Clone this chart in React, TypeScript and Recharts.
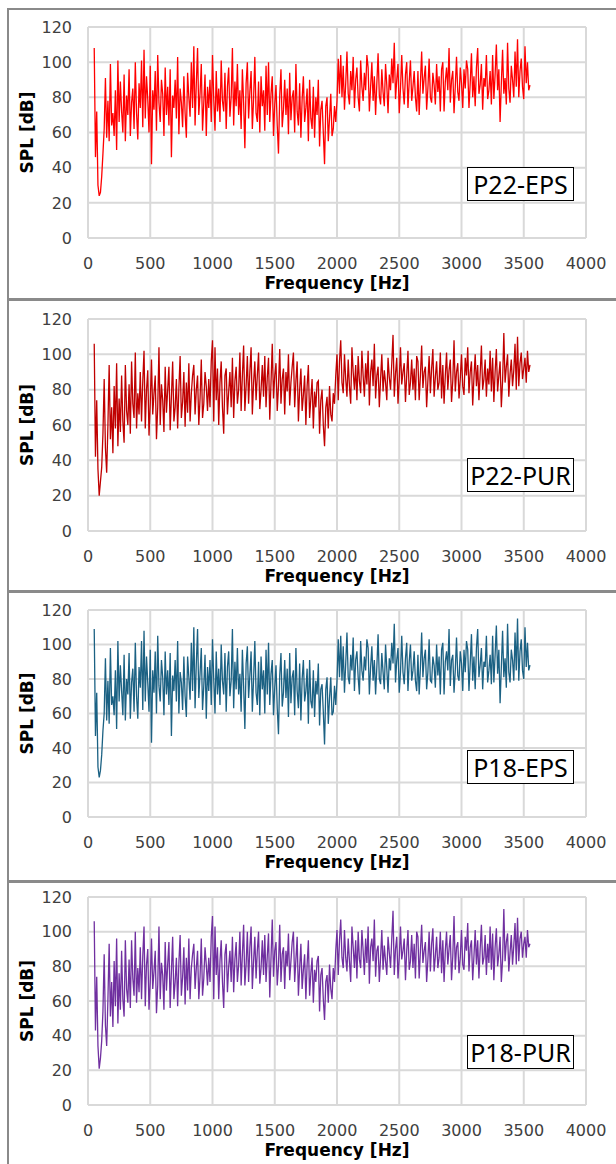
import { LineChart, Line, CartesianGrid, XAxis, YAxis } from "recharts";

// FFT bins: 50 Hz to 3550 Hz every 10 Hz
const startHz = 50;
const stepHz = 10;

const xTicks = [0, 500, 1000, 1500, 2000, 2500, 3000, 3500, 4000];
const yTicks = [0, 20, 40, 60, 80, 100, 120];

const p22Eps = [
  108, 46, 72, 30, 24, 26, 35, 48, 62, 91, 57, 78, 55, 99, 64, 71, 58, 84, 50, 101,
  66, 89, 72, 60, 93, 55, 81, 70, 96, 58, 77, 85, 62, 100, 71, 56, 88, 74, 101, 63,
  107, 68, 92, 79, 60, 98, 42, 84, 73, 95, 61, 104, 77, 66, 90, 82, 58, 97, 70, 86,
  64, 96, 46, 81, 74, 90, 68, 103, 59, 85, 77, 63, 92, 71, 57, 94, 80, 69, 100, 74,
  109, 64, 88, 108, 70, 82, 99, 61, 77, 93, 58, 86, 74, 90, 66, 104, 79, 61, 95, 72,
  85, 66, 101, 78, 72, 94, 62, 86, 97, 69, 80, 108, 64, 89, 75, 99, 70, 84, 62, 96,
  77, 51, 88, 100, 68, 83, 95, 62, 79, 103, 71, 66, 89, 60, 92, 75, 84, 61, 98, 70,
  100, 66, 82, 92, 58, 76, 87, 64, 48, 81, 96, 63, 73, 90, 70, 85, 59, 94, 67, 80,
  84, 60, 99, 72, 64, 88, 57, 79, 92, 66, 74, 85, 55, 90, 68, 62, 86, 57, 80, 70,
  90, 52, 73, 78, 60, 42, 75, 80, 55, 68, 82, 58, 62, 75, 66, 78, 102, 82, 104, 80,
  98, 73, 88, 106, 82, 76, 95, 84, 103, 74, 90, 97, 80, 72, 101, 86, 78, 94, 84, 104,
  97, 72, 86, 100, 78, 92, 70, 88, 105, 81, 76, 96, 83, 75, 99, 87, 71, 93, 84, 102,
  88, 111, 79, 90, 99, 71, 85, 104, 85, 76, 93, 100, 74, 89, 101, 78, 86, 95, 80, 72,
  95, 70, 88, 106, 82, 91, 98, 73, 85, 102, 80, 77, 94, 87, 76, 99, 83, 92, 72, 96,
  100, 72, 89, 97, 84, 108, 77, 90, 95, 71, 86, 103, 83, 78, 97, 88, 74, 96, 85, 101,
  96, 74, 88, 105, 80, 92, 75, 97, 108, 82, 87, 99, 73, 91, 86, 104, 79, 84, 95, 76,
  104, 79, 93, 110, 84, 96, 66, 88, 107, 82, 91, 76, 111, 85, 77, 98, 90, 80, 106, 86,
  113, 80, 95, 102, 86, 79, 109, 88, 100, 84, 87,
];

const p22Pur = [
  106, 42, 74, 35, 20, 28, 36, 55, 86, 47, 33, 60, 94, 52, 70, 44, 82, 58, 95, 48,
  75, 56, 88, 62, 50, 94, 68, 60, 83, 55, 96, 72, 64, 101, 58, 78, 66, 90, 62, 85,
  102, 58, 80, 91, 54, 72, 97, 66, 78, 88, 52, 70, 104, 60, 83, 74, 56, 93, 67, 80,
  93, 57, 76, 96, 62, 70, 86, 58, 81, 99, 64, 73, 90, 59, 84, 67, 95, 62, 78, 88,
  94, 66, 80, 88, 60, 75, 97, 64, 72, 90, 82, 68, 86, 70, 96, 108, 62, 104, 74, 92,
  60, 84, 96, 70, 55, 88, 92, 66, 79, 90, 70, 98, 64, 85, 93, 72, 80, 101, 68, 88,
  105, 68, 82, 99, 72, 90, 104, 66, 84, 96, 74, 88, 101, 69, 80, 94, 76, 99, 70, 87,
  98, 63, 84, 106, 75, 88, 95, 68, 82, 103, 72, 86, 92, 66, 90, 79, 100, 71, 84, 93,
  101, 70, 85, 96, 62, 80, 92, 68, 77, 88, 60, 82, 94, 64, 75, 86, 58, 79, 70, 84,
  85, 55, 74, 80, 60, 48, 70, 76, 58, 82, 66, 62, 78, 72, 88, 100, 74, 96, 108, 84,
  78, 100, 86, 76, 97, 82, 72, 104, 90, 80, 94, 74, 99, 85, 78, 102, 88, 76, 95, 83,
  102, 71, 90, 97, 82, 106, 75, 88, 93, 70, 86, 100, 79, 91, 84, 74, 98, 87, 80, 95,
  111, 76, 89, 98, 72, 86, 104, 83, 90, 95, 73, 88, 102, 77, 84, 97, 80, 92, 74, 99,
  96, 74, 88, 105, 81, 90, 93, 70, 85, 99, 78, 92, 103, 76, 87, 96, 80, 84, 101, 75,
  94, 72, 88, 101, 80, 91, 97, 73, 85, 108, 79, 90, 95, 75, 86, 100, 82, 77, 98, 88,
  104, 78, 90, 96, 71, 87, 100, 82, 94, 74, 89, 105, 80, 86, 97, 76, 92, 83, 102, 79,
  98, 73, 90, 103, 79, 88, 96, 70, 85, 112, 84, 93, 100, 76, 89, 97, 82, 91, 106, 80,
  110, 82, 95, 101, 86, 92, 98, 84, 102, 90, 94,
];

const p18Eps = [
  109, 47, 72, 29, 23, 27, 36, 50, 60, 92, 56, 79, 54, 98, 65, 70, 59, 85, 51, 102,
  67, 88, 73, 59, 94, 56, 80, 71, 95, 57, 78, 86, 61, 101, 70, 57, 87, 75, 102, 62,
  108, 67, 93, 78, 61, 97, 43, 85, 72, 96, 60, 105, 76, 67, 91, 81, 59, 96, 71, 85,
  65, 95, 47, 82, 73, 91, 67, 102, 60, 84, 78, 62, 93, 70, 58, 93, 81, 68, 101, 73,
  110, 63, 89, 109, 69, 83, 98, 62, 76, 94, 57, 87, 73, 91, 65, 103, 80, 60, 96, 71,
  86, 65, 100, 79, 71, 95, 61, 87, 96, 70, 79, 109, 63, 90, 74, 98, 71, 83, 61, 97,
  76, 51, 89, 99, 69, 82, 96, 61, 80, 102, 72, 65, 90, 59, 93, 74, 85, 60, 97, 71,
  101, 65, 83, 91, 59, 75, 88, 63, 48, 82, 95, 64, 72, 91, 69, 86, 58, 95, 66, 81,
  85, 59, 98, 73, 63, 89, 56, 80, 91, 67, 73, 86, 54, 91, 67, 63, 85, 58, 79, 71,
  89, 53, 74, 77, 61, 42, 74, 81, 54, 69, 81, 59, 61, 76, 65, 79, 103, 81, 105, 79,
  99, 72, 89, 107, 81, 77, 94, 85, 104, 73, 91, 96, 81, 71, 102, 85, 79, 93, 85, 103,
  98, 71, 87, 99, 79, 91, 71, 87, 106, 80, 77, 95, 84, 74, 100, 86, 72, 92, 85, 101,
  89, 112, 78, 91, 98, 72, 84, 105, 84, 77, 92, 101, 73, 90, 100, 79, 85, 96, 79, 73,
  94, 71, 87, 107, 81, 92, 97, 74, 84, 103, 79, 78, 93, 88, 75, 100, 82, 93, 71, 97,
  101, 71, 90, 96, 85, 109, 76, 91, 94, 72, 85, 104, 82, 79, 96, 89, 73, 97, 84, 102,
  97, 73, 89, 106, 79, 93, 74, 98, 109, 81, 88, 98, 74, 90, 87, 105, 78, 85, 94, 77,
  105, 78, 94, 111, 83, 97, 66, 87, 108, 81, 92, 75, 112, 84, 78, 97, 91, 79, 107, 85,
  115, 79, 96, 103, 85, 80, 110, 87, 101, 85, 88,
];

const p18Pur = [
  106, 43, 74, 34, 21, 27, 37, 54, 87, 46, 34, 61, 93, 51, 71, 45, 83, 57, 96, 47,
  76, 55, 89, 61, 51, 95, 67, 59, 84, 56, 95, 73, 63, 100, 59, 79, 65, 91, 61, 86,
  103, 57, 81, 90, 55, 71, 96, 67, 77, 89, 53, 69, 103, 61, 82, 75, 55, 94, 66, 81,
  94, 56, 77, 97, 61, 71, 85, 57, 82, 98, 63, 74, 91, 58, 85, 66, 96, 61, 79, 87,
  93, 67, 79, 89, 61, 74, 96, 63, 73, 91, 81, 69, 85, 71, 97, 109, 61, 103, 75, 91,
  61, 83, 95, 71, 56, 87, 93, 65, 80, 89, 71, 97, 65, 84, 94, 71, 81, 100, 69, 87,
  104, 69, 81, 100, 71, 91, 103, 67, 83, 97, 73, 89, 100, 70, 79, 95, 75, 98, 71, 86,
  99, 62, 85, 107, 74, 89, 94, 69, 81, 104, 71, 87, 91, 67, 89, 80, 99, 72, 83, 94,
  100, 71, 84, 97, 63, 79, 93, 67, 78, 87, 61, 81, 95, 63, 76, 85, 59, 78, 71, 83,
  86, 54, 75, 79, 61, 49, 71, 75, 59, 81, 67, 61, 79, 71, 89, 101, 75, 95, 107, 85,
  79, 101, 85, 77, 96, 83, 71, 103, 91, 79, 95, 73, 100, 84, 79, 101, 89, 75, 96, 82,
  103, 70, 91, 96, 83, 107, 74, 89, 92, 71, 85, 101, 78, 92, 83, 75, 97, 88, 79, 96,
  112, 75, 90, 97, 73, 85, 103, 84, 89, 96, 72, 89, 101, 78, 83, 98, 79, 93, 73, 100,
  97, 73, 89, 104, 82, 89, 94, 71, 84, 100, 77, 93, 102, 77, 86, 97, 79, 85, 100, 76,
  95, 71, 89, 100, 81, 90, 98, 72, 86, 109, 78, 91, 94, 76, 85, 101, 81, 78, 97, 89,
  105, 77, 91, 95, 72, 86, 101, 81, 95, 73, 90, 104, 81, 85, 98, 75, 93, 82, 103, 78,
  99, 72, 91, 102, 80, 87, 97, 71, 84, 113, 83, 94, 99, 77, 88, 98, 81, 92, 105, 81,
  108, 83, 96, 100, 85, 93, 97, 85, 101, 91, 93,
];

const toRows = (spl: number[]) =>
  spl.map((v, i) => ({ f: startHz + i * stepHz, spl: v }));

const panels = [
  { name: "P22-EPS", spl: p22Eps, color: "#ff0000", top: 8, height: 290, plotTop: 27, plotBottom: 238, boxTop: 167 },
  { name: "P22-PUR", spl: p22Pur, color: "#c00000", top: 298, height: 292, plotTop: 319, plotBottom: 531, boxTop: 458 },
  { name: "P18-EPS", spl: p18Eps, color: "#1b6183", top: 590, height: 290, plotTop: 610, plotBottom: 817, boxTop: 750 },
  { name: "P18-PUR", spl: p18Pur, color: "#7030a0", top: 880, height: 284, plotTop: 897, plotBottom: 1105, boxTop: 1035 },
];

const tickStyle = { fontSize: 16, fill: "#404040", fontFamily: "DejaVu Sans" };
const borderGray = "#8a8a8a";

const YTitle = (props: any) => {
  const vb = props.viewBox || {};
  const cx = 27;
  const cy = (vb.y ?? 20) + (vb.height ?? 210) / 2;
  return (
    <text
      x={cx}
      y={cy}
      transform={`rotate(-90 ${cx} ${cy})`}
      textAnchor="middle"
      dominantBaseline="central"
      fontFamily="DejaVu Sans"
      fontWeight="bold"
      fontSize={17}
      fill="#000"
    >
      SPL [dB]
    </text>
  );
};

const Panel = ({ p }: { p: (typeof panels)[number] }) => {
  const xAxisH = 30;
  const marginTop = p.plotTop - p.top;
  const marginBottom = p.top + p.height - p.plotBottom - xAxisH;
  return (
    <div style={{ position: "absolute", left: 0, top: p.top, width: 616, height: p.height }}>
      <LineChart
        width={616}
        height={p.height}
        data={toRows(p.spl)}
        margin={{ top: marginTop, right: 30, left: 0, bottom: marginBottom }}
      >
        <CartesianGrid stroke="#d9d9d9" strokeWidth={2} />
        <XAxis
          dataKey="f"
          type="number"
          domain={[0, 4000]}
          ticks={xTicks}
          height={xAxisH}
          tickSize={0}
          tickMargin={20}
          axisLine={false}
          tickLine={false}
          tick={tickStyle}
          label={{
            value: "Frequency [Hz]",
            position: "bottom",
            offset: 9,
            fill: "#000",
            fontSize: 17,
            fontWeight: "bold",
            fontFamily: "DejaVu Sans",
          }}
        />
        <YAxis
          type="number"
          domain={[0, 120]}
          ticks={yTicks}
          width={88}
          tickSize={0}
          tickMargin={16}
          axisLine={false}
          tickLine={false}
          tick={tickStyle}
          label={YTitle}
        />
        <Line
          type="linear"
          dataKey="spl"
          stroke={p.color}
          strokeWidth={1.3}
          dot={false}
          isAnimationActive={false}
        />
      </LineChart>
      <div
        style={{
          position: "absolute",
          left: 467,
          top: p.boxTop - p.top,
          width: 105,
          height: 32,
          border: "1px solid #000",
          background: "#fff",
          fontFamily: "Noto Sans",
          fontSize: 25,
          lineHeight: "32px",
          textAlign: "center",
          color: "#000",
        }}
      >
        {p.name}
      </div>
      <div
        style={{
          position: "absolute",
          left: 7,
          top: 0,
          width: 609,
          height: p.height,
          borderTop: `${p.top === 8 ? 2 : 3}px solid ${borderGray}`,
          borderLeft: `2px solid ${borderGray}`,
          boxSizing: "border-box",
          pointerEvents: "none",
        }}
      />
    </div>
  );
}

export default function App() {
  return (
    <div
      style={{
        position: "absolute",
        left: 0,
        top: 0,
        width: 616,
        height: 1164,
        background: "#fff",
        overflow: "hidden",
      }}
    >
      {panels.map((p) => (
        <Panel key={p.name} p={p} />
      ))}
    </div>
  );
}
